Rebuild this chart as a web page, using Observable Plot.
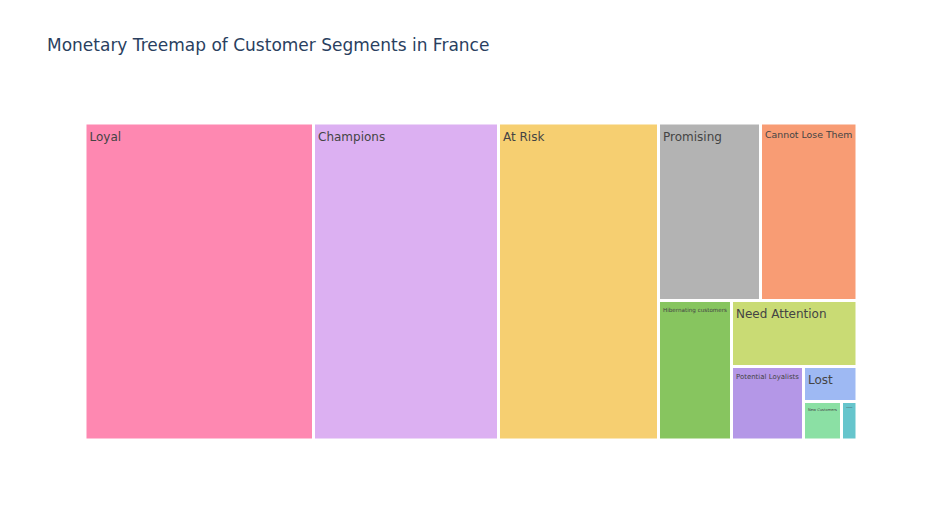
<!DOCTYPE html>
<html>
<head>
<meta charset="utf-8">
<script src="https://cdn.jsdelivr.net/npm/d3@7"></script>
<script src="https://cdn.jsdelivr.net/npm/@observablehq/plot@0.6"></script>
<style>
  html, body { margin: 0; padding: 0; background: #fff; }
  #wrap { position: relative; width: 941px; height: 525px; font-family: "DejaVu Sans", verdana, arial, sans-serif; }
  #title { position: absolute; left: 47px; top: 37px; font-size: 17px; line-height: 17px; color: #2a3f5f; white-space: nowrap; }
</style>
</head>
<body>
<div id="wrap"><div id="title">Monetary Treemap of Customer Segments in France</div></div>
<script>
const segments = ["Loyal","Champions","At Risk","Promising","Cannot Lose Them","Hibernating customers","Need Attention","Potential Loyalists","Lost","New Customers","About To Sleep"];
const monetary = [72435, 58645, 50720, 18105, 17129, 10184, 8283, 5292, 1873, 1463, 597];
const colors = ["rgb(254,136,177)","rgb(220,176,242)","rgb(246,207,113)","rgb(179,179,179)","rgb(248,156,116)","rgb(135,197,95)","rgb(201,219,116)","rgb(180,151,231)","rgb(158,185,243)","rgb(139,224,164)","rgb(102,197,204)"];

const W = 772, H = 317;
const root = d3.hierarchy({children: segments.map((s, i) => ({label: s, value: monetary[i], color: colors[i]}))})
  .sum(d => d.value || 0)
  .sort((a, b) => b.value - a.value);
d3.treemap().tile(d3.treemapSquarify.ratio(1)).size([W, H]).round(false)(root);
const leaves = root.leaves();

const ctx = document.createElement("canvas").getContext("2d");
ctx.font = '12px "DejaVu Sans"';
function fontSize(d) {
  const w = d.x1 - d.x0 - 3;
  const tw = ctx.measureText(d.data.label).width;
  return Math.min(12, 12 * (w - 6) / tw);
}

const chart = Plot.plot({
  width: 941,
  height: 525,
  marginLeft: 85,
  marginRight: 84,
  marginTop: 123,
  marginBottom: 85,
  style: {fontFamily: '"DejaVu Sans", verdana, arial, sans-serif', background: "transparent"},
  x: {domain: [0, W], axis: null},
  y: {domain: [0, H], reverse: true, axis: null},
  marks: [
    Plot.rect(leaves, {x1: d => d.x0, x2: d => d.x1, y1: d => d.y0, y2: d => d.y1, fill: d => d.data.color, inset: 1.5}),
    Plot.text(leaves, {x: d => d.x0, y: d => d.y0 + 5 + 0.29 * fontSize(d), text: d => d.data.label,
      textAnchor: "start", lineAnchor: "top", dx: 4, fill: "#444", fontSize: fontSize})
  ]
});
document.getElementById("wrap").appendChild(chart);
</script>
</body>
</html>
